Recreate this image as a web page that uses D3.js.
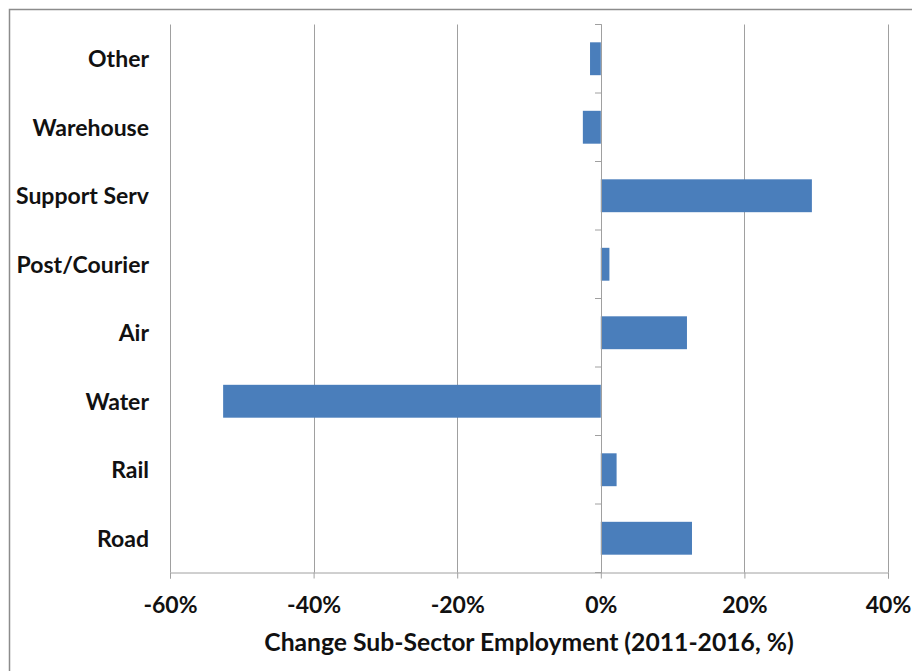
<!DOCTYPE html>
<html>
<head>
<meta charset="utf-8">
<script src="https://cdn.jsdelivr.net/npm/d3@7"></script>
<style>
  body { margin: 0; background: #fff; }
  svg { display: block; }
  text { font-family: Lato, "Open Sans", sans-serif; font-weight: bold; fill: #111; }
</style>
</head>
<body>
<svg id="chart" width="912" height="671"></svg>
<script>
const categories = ["Other", "Warehouse", "Support Serv", "Post/Courier", "Air", "Water", "Rail", "Road"];
const changes = [-1.5, -2.5, 29.4, 1.2, 12.0, -52.6, 2.2, 12.7];
const xTicks = [-60, -40, -20, 0, 20, 40];
const xTitle = "Change Sub-Sector Employment (2011-2016, %)";

const svg = d3.select("#chart");
const plotLeft = 170, plotRight = 888, plotTop = 24.5, plotBottom = 572.5;

// outer frame (only top/left edges visible in the window)
svg.append("rect")
  .attr("x", 9.5).attr("y", 9.5)
  .attr("width", 1000).attr("height", 1000)
  .attr("fill", "none").attr("stroke", "#8c8c8c").attr("stroke-width", 1.5);

const x = d3.scaleLinear().domain([-60, 40]).range([plotLeft, plotRight]);
const y = d3.scaleBand().domain(categories).range([plotTop, plotBottom]).paddingInner(0.52).paddingOuter(0.26);

// vertical gridlines
svg.append("g")
  .selectAll("line")
  .data(xTicks)
  .join("line")
  .attr("x1", d => Math.round(x(d)) + 0.5).attr("x2", d => Math.round(x(d)) + 0.5)
  .attr("y1", plotTop).attr("y2", plotBottom)
  .attr("stroke", "#a0a0a0").attr("stroke-width", 1);

// x axis
const xAxis = svg.append("g")
  .attr("transform", `translate(0,${plotBottom})`)
  .call(d3.axisBottom(x).tickValues(xTicks).tickFormat(d => d + "%").tickSize(6).tickPadding(18));
xAxis.select(".domain").attr("stroke", "#a0a0a0");
xAxis.selectAll(".tick line").attr("stroke", "#a0a0a0");
xAxis.selectAll("text").attr("font-size", 23).attr("font-family", "Lato, sans-serif").attr("font-weight", "bold").attr("fill", "#111");

// bars
svg.append("g")
  .selectAll("rect")
  .data(categories)
  .join("rect")
  .attr("x", (d, i) => x(Math.min(0, changes[i])))
  .attr("y", d => y(d))
  .attr("width", (d, i) => Math.abs(x(changes[i]) - x(0)))
  .attr("height", y.bandwidth())
  .attr("fill", "#4a7ebb");

// y axis at zero with ticks at band boundaries
const yAxisG = svg.append("g");
yAxisG.append("line")
  .attr("x1", Math.round(x(0)) + 0.5).attr("x2", Math.round(x(0)) + 0.5)
  .attr("y1", plotTop).attr("y2", plotBottom)
  .attr("stroke", "#a0a0a0");
yAxisG.selectAll("line.tk")
  .data(d3.range(categories.length + 1))
  .join("line")
  .attr("class", "tk")
  .attr("x1", Math.round(x(0)) - 6).attr("x2", Math.round(x(0)) + 0.5)
  .attr("y1", i => plotTop + i * y.step()).attr("y2", i => plotTop + i * y.step())
  .attr("stroke", "#a0a0a0");

// category labels
svg.append("g")
  .selectAll("text")
  .data(categories)
  .join("text")
  .attr("x", 149)
  .attr("y", d => y(d) + y.bandwidth() / 2)
  .attr("dy", "0.36em")
  .attr("text-anchor", "end")
  .attr("font-size", 23)
  .text(d => d);

// axis title
svg.append("text")
  .attr("x", (plotLeft + plotRight) / 2)
  .attr("y", 651)
  .attr("text-anchor", "middle")
  .attr("font-size", 24.7)
  .text(xTitle);
</script>
</body>
</html>
